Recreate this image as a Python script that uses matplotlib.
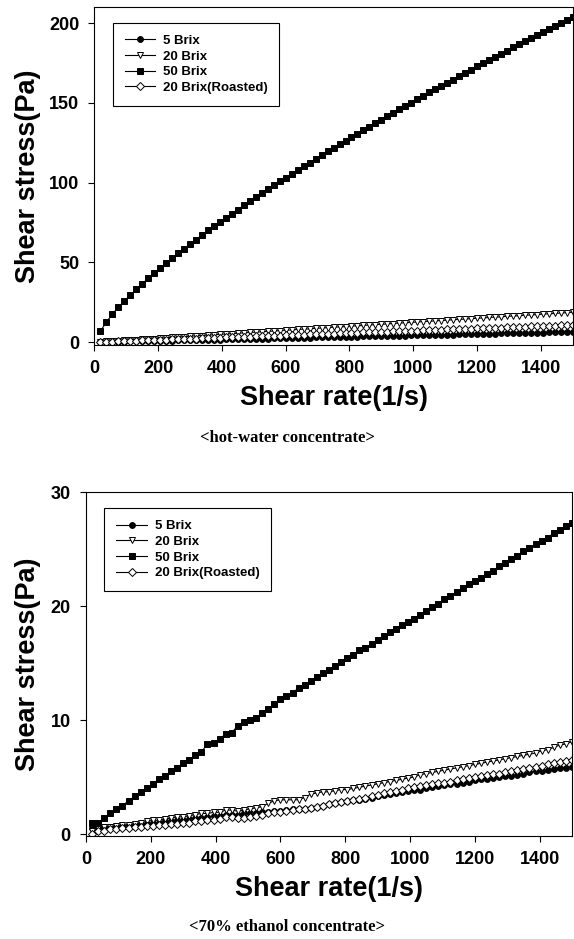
import matplotlib
matplotlib.use('Agg')
import matplotlib.pyplot as plt

# shear rate grid (1/s)
shear_rate = [18.75, 37.5, 56.25, 75, 93.75, 112.5, 131.25, 150, 168.75, 187.5,
              206.25, 225, 243.75, 262.5, 281.25, 300, 318.75, 337.5, 356.25, 375,
              393.75, 412.5, 431.25, 450, 468.75, 487.5, 506.25, 525, 543.75, 562.5,
              581.25, 600, 618.75, 637.5, 656.25, 675, 693.75, 712.5, 731.25, 750,
              768.75, 787.5, 806.25, 825, 843.75, 862.5, 881.25, 900, 918.75, 937.5,
              956.25, 975, 993.75, 1012.5, 1031.25, 1050, 1068.75, 1087.5, 1106.25, 1125,
              1143.75, 1162.5, 1181.25, 1200, 1218.75, 1237.5, 1256.25, 1275, 1293.75, 1312.5,
              1331.25, 1350, 1368.75, 1387.5, 1406.25, 1425, 1443.75, 1462.5, 1481.25, 1500]

# hot-water concentrate, shear stress (Pa)
hw_5 = [0.1, 0.2, 0.2, 0.3, 0.4, 0.5, 0.6, 0.6, 0.7, 0.8,
        0.9, 1.0, 1.0, 1.1, 1.2, 1.3, 1.4, 1.5, 1.5, 1.6,
        1.7, 1.8, 1.9, 1.9, 2.0, 2.1, 2.2, 2.3, 2.3, 2.4,
        2.5, 2.6, 2.7, 2.7, 2.8, 2.9, 3.0, 3.1, 3.1, 3.2,
        3.3, 3.4, 3.5, 3.5, 3.6, 3.7, 3.8, 3.9, 3.9, 4.0,
        4.1, 4.2, 4.3, 4.4, 4.4, 4.5, 4.6, 4.7, 4.8, 4.8,
        4.9, 5.0, 5.1, 5.2, 5.2, 5.3, 5.4, 5.5, 5.6, 5.6,
        5.7, 5.8, 5.9, 6.0, 6.0, 6.1, 6.2, 6.3, 6.4, 6.5]
hw_20 = [0.2, 0.5, 0.7, 0.9, 1.2, 1.4, 1.6, 1.9, 2.1, 2.3,
         2.6, 2.8, 3.0, 3.3, 3.5, 3.8, 4.0, 4.2, 4.5, 4.7,
         4.9, 5.2, 5.4, 5.6, 5.9, 6.1, 6.3, 6.6, 6.8, 7.0,
         7.3, 7.5, 7.7, 8.0, 8.2, 8.4, 8.7, 8.9, 9.1, 9.4,
         9.6, 9.8, 10.1, 10.3, 10.5, 10.8, 11.0, 11.2, 11.5, 11.7,
         12.0, 12.2, 12.4, 12.7, 12.9, 13.1, 13.4, 13.6, 13.8, 14.1,
         14.3, 14.5, 14.8, 15.0, 15.2, 15.5, 15.7, 15.9, 16.2, 16.4,
         16.6, 16.9, 17.1, 17.3, 17.6, 17.8, 18.0, 18.3, 18.5, 18.8]
hw_50 = [7.0, 12.6, 17.7, 21.9, 25.9, 29.6, 33.2, 36.7, 40.0, 43.3,
         46.5, 49.6, 52.7, 55.7, 58.6, 61.5, 64.3, 67.2, 70.0, 72.7,
         75.3, 78.0, 80.6, 83.1, 85.8, 88.3, 90.8, 93.3, 95.9, 98.2,
         100.7, 103.1, 105.5, 107.9, 110.2, 112.6, 114.8, 117.2, 119.5, 121.8,
         124.1, 126.3, 128.5, 130.7, 132.9, 135.1, 137.3, 139.3, 141.6, 143.7,
         145.9, 147.9, 150.0, 152.2, 154.4, 156.5, 158.5, 160.6, 162.7, 164.6,
         166.6, 168.7, 170.7, 172.8, 174.8, 176.7, 178.8, 180.7, 182.7, 184.7,
         186.8, 188.7, 190.5, 192.5, 194.6, 196.3, 198.3, 200.3, 202.1, 204.0]
hw_20r = [0.1, 0.3, 0.4, 0.5, 0.7, 0.8, 0.9, 1.1, 1.2, 1.4,
          1.5, 1.6, 1.8, 1.9, 2.0, 2.2, 2.3, 2.4, 2.6, 2.7,
          2.8, 3.0, 3.1, 3.2, 3.4, 3.5, 3.6, 3.8, 3.9, 4.1,
          4.2, 4.3, 4.5, 4.6, 4.7, 4.9, 5.0, 5.1, 5.3, 5.4,
          5.5, 5.7, 5.8, 5.9, 6.1, 6.2, 6.3, 6.5, 6.6, 6.8,
          6.9, 7.0, 7.2, 7.3, 7.4, 7.6, 7.7, 7.8, 8.0, 8.1,
          8.2, 8.4, 8.5, 8.6, 8.8, 8.9, 9.0, 9.2, 9.3, 9.5,
          9.6, 9.7, 9.9, 10.0, 10.1, 10.3, 10.4, 10.5, 10.7, 10.8]

# 70% ethanol concentrate, shear stress (Pa)
et_5 = [0.5, 0.5, 0.6, 0.6, 0.7, 0.7, 0.8, 0.8, 0.9, 0.9,
        1.0, 1.0, 1.1, 1.1, 1.2, 1.2, 1.3, 1.4, 1.4, 1.5,
        1.6, 1.6, 1.7, 1.7, 1.7, 1.8, 1.8, 1.8, 1.9, 1.9,
        2.0, 2.0, 2.1, 2.2, 2.2, 2.2, 2.3, 2.4, 2.5, 2.6,
        2.7, 2.8, 2.9, 3.0, 3.0, 3.1, 3.2, 3.3, 3.4, 3.5,
        3.6, 3.7, 3.8, 3.9, 3.9, 4.0, 4.1, 4.2, 4.3, 4.4,
        4.4, 4.5, 4.6, 4.7, 4.8, 4.8, 4.9, 5.0, 5.1, 5.1,
        5.2, 5.3, 5.4, 5.5, 5.5, 5.6, 5.7, 5.8, 5.8, 5.9]
et_20 = [0.3, 0.5, 0.6, 0.6, 0.7, 0.8, 0.8, 0.9, 1.0, 1.1,
         1.2, 1.2, 1.3, 1.4, 1.5, 1.5, 1.6, 1.7, 1.8, 1.8,
         1.9, 1.9, 2.1, 2.1, 2.0, 2.1, 2.2, 2.3, 2.4, 2.7,
         2.9, 3.0, 3.0, 3.0, 3.0, 3.2, 3.5, 3.6, 3.7, 3.7,
         3.8, 3.9, 3.9, 4.0, 4.1, 4.2, 4.3, 4.4, 4.5, 4.6,
         4.7, 4.8, 4.9, 5.0, 5.2, 5.3, 5.4, 5.5, 5.6, 5.7,
         5.8, 5.9, 6.0, 6.1, 6.2, 6.3, 6.4, 6.5, 6.6, 6.7,
         6.8, 6.9, 7.0, 7.1, 7.3, 7.4, 7.6, 7.8, 7.9, 8.1]
et_50 = [1.0, 1.0, 1.4, 1.8, 2.2, 2.5, 2.9, 3.3, 3.7, 4.0,
         4.4, 4.8, 5.1, 5.5, 5.8, 6.2, 6.5, 6.9, 7.2, 7.9,
         8.0, 8.3, 8.8, 8.9, 9.5, 9.8, 10.0, 10.2, 10.6, 11.0,
         11.4, 11.8, 12.1, 12.4, 12.8, 13.1, 13.4, 13.8, 14.1, 14.4,
         14.7, 15.1, 15.4, 15.7, 16.1, 16.3, 16.7, 17.0, 17.4, 17.7,
         18.0, 18.3, 18.6, 18.9, 19.2, 19.6, 19.9, 20.2, 20.6, 20.9,
         21.2, 21.6, 21.9, 22.2, 22.5, 22.8, 23.1, 23.5, 23.8, 24.1,
         24.4, 24.8, 25.1, 25.4, 25.7, 26.0, 26.4, 26.7, 27.0, 27.3]
et_20r = [0.0, 0.3, 0.3, 0.4, 0.4, 0.5, 0.5, 0.6, 0.6, 0.7,
          0.7, 0.8, 0.8, 0.9, 0.9, 1.0, 1.0, 1.1, 1.1, 1.2,
          1.2, 1.3, 1.5, 1.5, 1.4, 1.4, 1.5, 1.6, 1.7, 1.8,
          1.9, 1.9, 2.0, 2.1, 2.2, 2.2, 2.3, 2.4, 2.5, 2.6,
          2.7, 2.8, 2.9, 3.0, 3.1, 3.2, 3.3, 3.4, 3.6, 3.7,
          3.8, 3.9, 4.0, 4.1, 4.2, 4.3, 4.4, 4.5, 4.5, 4.6,
          4.7, 4.8, 4.9, 5.0, 5.1, 5.2, 5.3, 5.3, 5.4, 5.5,
          5.6, 5.7, 5.8, 5.9, 6.0, 6.1, 6.2, 6.3, 6.4, 6.5]

labels = ['5 Brix', '20 Brix', '50 Brix', '20 Brix(Roasted)']
x_ticks = [0, 200, 400, 600, 800, 1000, 1200, 1400]
captions = ['<hot-water concentrate>', '<70% ethanol concentrate>']

styles = [dict(marker='o', mfc='black', ms=4.2),
          dict(marker='v', mfc='white', ms=5),
          dict(marker='s', mfc='black', ms=4),
          dict(marker='D', mfc='white', ms=3.8)]

sans = 'Liberation Sans'
serif = 'Liberation Serif'

fig = plt.figure(figsize=(5.74, 9.39), dpi=100)
ax1 = fig.add_axes([0.1646, 0.633, 0.833, 0.3595])
ax2 = fig.add_axes([0.1498, 0.110, 0.8467, 0.366])

panels = [
    (ax1, [hw_5, hw_20, hw_50, hw_20r], (-1.5, 210), [0, 50, 100, 150, 200]),
    (ax2, [et_5, et_20, et_50, et_20r], (-0.15, 30), [0, 10, 20, 30]),
]

for ax, series, ylim, yticks in panels:
    for ys, lab, st in zip(series, labels, styles):
        ax.plot(shear_rate, ys, color='black', lw=0.8, mec='black', mew=0.7,
                label=lab, **st)
    ax.set_xlim(0, 1500)
    ax.set_ylim(*ylim)
    ax.set_xticks(x_ticks)
    ax.set_yticks(yticks)
    ax.tick_params(direction='out', length=4, width=0.8, pad=7)
    for lab in ax.get_xticklabels() + ax.get_yticklabels():
        lab.set_fontfamily(sans)
        lab.set_fontweight('bold')
        lab.set_fontsize(13)
    for sp in ax.spines.values():
        sp.set_linewidth(0.8)
    ax.set_xlabel('Shear rate(1/s)', fontfamily=sans, fontweight='bold',
                  fontsize=19.5, labelpad=6)
    ax.set_ylabel('Shear stress(Pa)', fontfamily=sans, fontweight='bold',
                  fontsize=19.5)
    leg = ax.legend(loc='upper left', bbox_to_anchor=(0.038, 0.953),
                    prop={'family': sans, 'weight': 'bold', 'size': 9.5},
                    handlelength=2.3, handletextpad=0.6, labelspacing=0.26,
                    borderpad=0.9, fancybox=False, framealpha=1,
                    edgecolor='black', numpoints=1, borderaxespad=0)
    leg.get_frame().set_linewidth(0.8)

ax1.yaxis.set_label_coords((41 - 94.5) / 479, 0.5)
ax2.yaxis.set_label_coords((41 - 86) / 486, 0.5)

fig.text(0.5, 1 - 438 / 939, captions[0], ha='center', va='center',
         fontfamily=serif, fontweight='bold', fontsize=12)
fig.text(0.5, 1 - 927 / 939, captions[1], ha='center', va='center',
         fontfamily=serif, fontweight='bold', fontsize=12)

fig.savefig('out.png', dpi=100)
